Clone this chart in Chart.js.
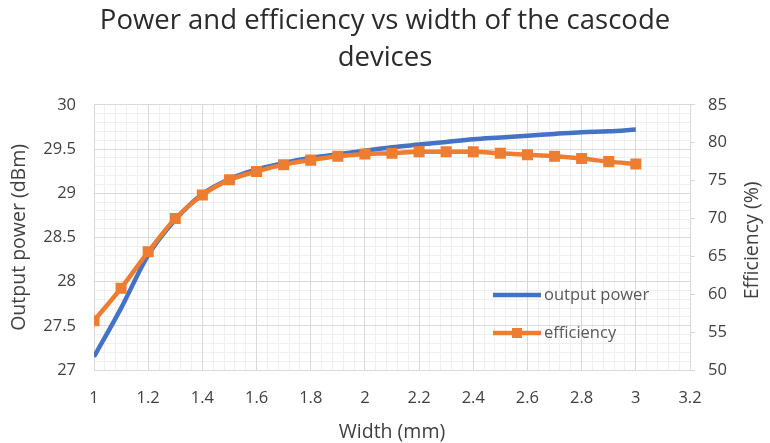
<!DOCTYPE html>
<html>
<head>
<meta charset="utf-8">
<script src="https://cdn.jsdelivr.net/npm/chart.js@4/dist/chart.umd.min.js"></script>
<style>
  html, body { margin: 0; padding: 0; background: #ffffff; }
  #wrap { width: 770px; height: 443px; }
</style>
</head>
<body>
<div id="wrap"><canvas id="c" width="770" height="443"></canvas></div>
<script>
// ---- data ----
const widths = [1.0, 1.1, 1.2, 1.3, 1.4, 1.5, 1.6, 1.7, 1.8, 1.9, 2.0, 2.1, 2.2, 2.3, 2.4, 2.5, 2.6, 2.7, 2.8, 2.9, 3.0];
const outputPower = [27.15, 27.70, 28.30, 28.70, 28.99, 29.16, 29.27, 29.34, 29.40, 29.44, 29.48, 29.52, 29.55, 29.58, 29.61, 29.63, 29.65, 29.67, 29.69, 29.70, 29.72];
const efficiency = [56.5, 60.8, 65.6, 70.0, 73.1, 75.1, 76.2, 77.1, 77.7, 78.2, 78.5, 78.6, 78.8, 78.8, 78.8, 78.6, 78.4, 78.2, 77.9, 77.5, 77.2];
const seriesNames = ['output power', 'efficiency'];
const titleLines = ['Power and efficiency vs width of the cascode', 'devices'];
const xTitle = 'Width (mm)';
const yLeftTitle = 'Output power (dBm)';
const yRightTitle = 'Efficiency (%)';

const FONT = "'Open Sans', 'DejaVu Sans', sans-serif";
const BLUE = '#4472C4';
const ORANGE = '#ED7D31';
const MAJOR = '#d9d9d9';
const MINOR = '#efefef';
const TICKC = '#404040';

const legendPlugin = {
  id: 'insideLegend',
  afterDatasetsDraw(chart) {
    const ctx = chart.ctx;
    const ds = chart.data.datasets;
    const rows = [295, 333];
    ctx.save();
    ds.forEach((d, i) => {
      const y = rows[i];
      ctx.strokeStyle = d.borderColor;
      ctx.lineWidth = d.borderWidth;
      ctx.lineCap = 'butt';
      ctx.beginPath();
      ctx.moveTo(493, y);
      ctx.lineTo(541, y);
      ctx.stroke();
      if (d.pointRadius > 0) {
        ctx.fillStyle = d.pointBackgroundColor;
        ctx.fillRect(517 - 5, y - 5, 10, 10);
      }
      ctx.fillStyle = '#595959';
      ctx.font = "16.5px " + FONT;
      ctx.textBaseline = 'middle';
      ctx.textAlign = 'left';
      ctx.fillText(d.label, 544, y);
    });
    // right axis title, reading bottom-to-top like the reference
    const area = chart.chartArea;
    ctx.save();
    ctx.translate(752, (area.top + area.bottom) / 2 + 3);
    ctx.rotate(-Math.PI / 2);
    ctx.fillStyle = TICKC;
    ctx.font = "19.5px " + FONT;
    ctx.textAlign = 'center';
    ctx.textBaseline = 'middle';
    ctx.fillText(yRightTitle, 0, 0);
    ctx.restore();
    ctx.restore();
  }
};

new Chart(document.getElementById('c'), {
  type: 'line',
  data: {
    datasets: [
      {
        label: seriesNames[0],
        data: widths.map((w, i) => ({ x: w, y: outputPower[i] })),
        xAxisID: 'x', yAxisID: 'y',
        borderColor: BLUE, backgroundColor: BLUE,
        borderWidth: 4.5, pointRadius: 0,
        cubicInterpolationMode: 'monotone',
        order: 2
      },
      {
        label: seriesNames[1],
        data: widths.map((w, i) => ({ x: w, y: efficiency[i] })),
        xAxisID: 'x', yAxisID: 'y2',
        borderColor: ORANGE, backgroundColor: ORANGE,
        pointBackgroundColor: ORANGE, pointBorderColor: ORANGE,
        borderWidth: 4.5, pointStyle: 'rect', pointRadius: 7.8, pointBorderWidth: 0,
        cubicInterpolationMode: 'monotone',
        order: 1
      }
    ]
  },
  options: {
    responsive: false,
    animation: false,
    devicePixelRatio: 1,
    layout: { padding: { left: 0, right: 0, top: 0, bottom: 0 } },
    plugins: {
      legend: { display: false },
      tooltip: { enabled: false },
      title: {
        display: true,
        text: titleLines,
        color: '#2b2b2b',
        font: { family: FONT, size: 27.5, weight: 'normal', lineHeight: 1.36 },
        padding: { top: 2, bottom: 28 }
      }
    },
    scales: {
      xMinor: {
        type: 'linear', position: 'bottom', min: 1, max: 3.2, z: -1,
        ticks: { display: false, stepSize: 0.04, maxTicksLimit: 200, autoSkip: false },
        grid: { color: MINOR, lineWidth: 1, drawTicks: false },
        border: { display: false },
        afterFit(s) { s.height = 0; }
      },
      yMinor: {
        type: 'linear', position: 'left', min: 27, max: 30, z: -1,
        ticks: { display: false, stepSize: 0.1, maxTicksLimit: 200, autoSkip: false },
        grid: { color: MINOR, lineWidth: 1, drawTicks: false },
        border: { display: false },
        afterFit(s) { s.width = 0; }
      },
      x: {
        type: 'linear', position: 'bottom', min: 1, max: 3.2,
        ticks: { stepSize: 0.2, color: TICKC, font: { family: FONT, size: 16.5 }, padding: 18, maxRotation: 0,
                 callback: (v) => Math.round(v * 10) / 10 + '' },
        grid: { color: MAJOR, lineWidth: 1, drawTicks: false },
        border: { color: MAJOR, width: 1 },
        title: { display: true, text: xTitle, color: TICKC, font: { family: FONT, size: 19.5 }, padding: { top: 0, bottom: -1 } },
        afterFit(s) { s.height = 73; }
      },
      y: {
        type: 'linear', position: 'left', min: 27, max: 30,
        ticks: { stepSize: 0.5, color: TICKC, font: { family: FONT, size: 16.5 }, padding: 18,
                 callback: (v) => Math.round(v * 10) / 10 + '' },
        grid: { color: MAJOR, lineWidth: 1, drawTicks: false },
        border: { color: MAJOR, width: 1 },
        title: { display: true, text: yLeftTitle, color: TICKC, font: { family: FONT, size: 19.5 }, padding: { top: 8, bottom: 0 } },
        afterFit(s) { s.width = 94; }
      },
      y2: {
        type: 'linear', position: 'right', min: 50, max: 85,
        ticks: { stepSize: 5, color: TICKC, font: { family: FONT, size: 16.5 }, padding: 13 },
        grid: { drawOnChartArea: false, color: MAJOR, drawTicks: true, tickLength: 5 },
        border: { color: MAJOR, width: 1 },
        title: { display: false },
        afterFit(s) { s.width = 80; }
      }
    }
  },
  plugins: [legendPlugin]
});
</script>
</body>
</html>
